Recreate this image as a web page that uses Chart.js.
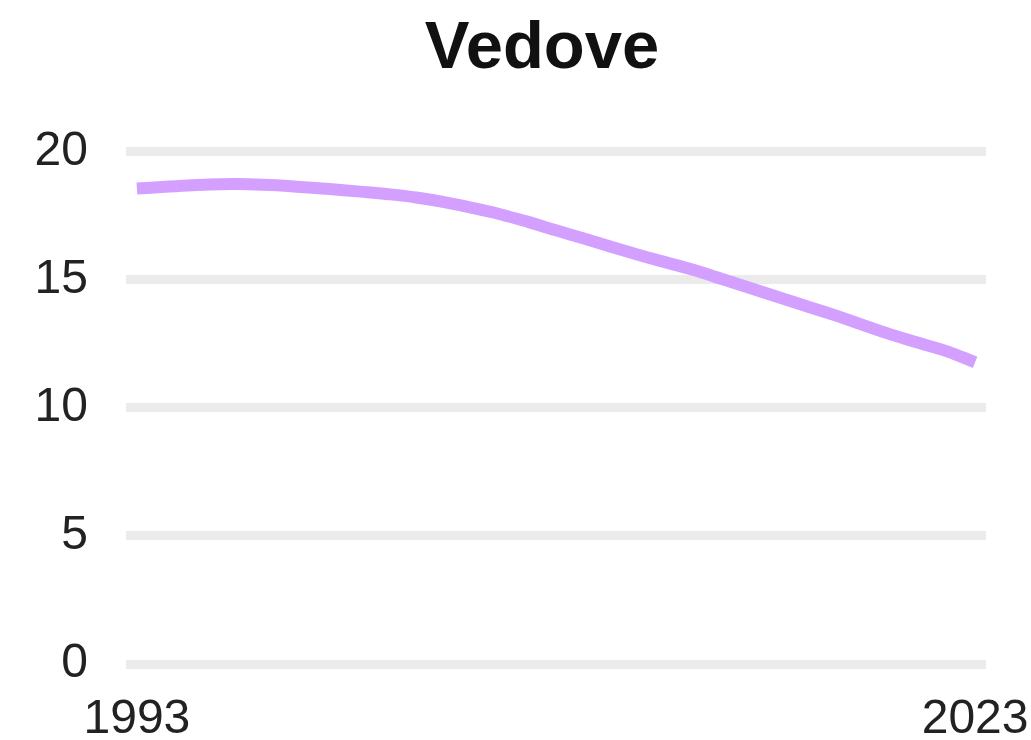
<!DOCTYPE html>
<html>
<head>
<meta charset="utf-8">
<script src="https://cdn.jsdelivr.net/npm/chart.js@4/dist/chart.umd.min.js"></script>
<style>
  html, body { margin: 0; padding: 0; background: #ffffff; }
  #wrap { width: 1031px; height: 740px; position: relative; }
</style>
</head>
<body>
<div id="wrap"><canvas id="c"></canvas></div>
<script>
const chartTitle = 'Vedove';
const years = [1993,1994,1995,1996,1997,1998,1999,2000,2001,2002,2003,2004,2005,2006,2007,2008,2009,2010,2011,2012,2013,2014,2015,2016,2017,2018,2019,2020,2021,2022,2023];
const values = [18.55,18.62,18.68,18.72,18.72,18.68,18.6,18.52,18.43,18.33,18.2,18.02,17.8,17.55,17.25,16.92,16.6,16.27,15.95,15.65,15.35,15.0,14.65,14.3,13.95,13.6,13.22,12.85,12.52,12.2,11.77];
const xTickValues = [1993, 2023];
const yTickValues = [0, 5, 10, 15, 20];

const FONT = '"Liberation Sans", Arial, Helvetica, sans-serif';
const points = years.map((y, i) => ({ x: y, y: values[i] }));

// nudges the title block horizontally to where the reference centres it
const titleShift = {
  id: 'titleShift',
  afterLayout(chart) {
    const t = chart.titleBlock;
    if (t) { t.left += 49; t.right += 49; }
  }
};

new Chart(document.getElementById('c'), {
  type: 'line',
  data: {
    datasets: [{
      data: points,
      borderColor: '#d3a0ff',
      borderWidth: 12,
      pointRadius: 0,
      pointHoverRadius: 0,
      tension: 0.4,
      fill: false
    }]
  },
  plugins: [titleShift],
  options: {
    responsive: true,
    maintainAspectRatio: false,
    animation: false,
    layout: { padding: { top: 0, right: 45, bottom: 0, left: 0 } },
    plugins: {
      legend: { display: false },
      tooltip: { enabled: false },
      title: {
        display: true,
        text: chartTitle,
        color: '#111111',
        font: { family: FONT, size: 67, weight: 'bold' },
        padding: { top: 9, bottom: 62 }
      }
    },
    scales: {
      x: {
        type: 'linear',
        min: years[0] - 0.39,
        max: years[years.length - 1] + 0.39,
        afterBuildTicks: (s) => { s.ticks = xTickValues.map(v => ({ value: v })); },
        afterFit: (s) => { s.height = 76; s.paddingLeft = 0; s.paddingRight = 0; },
        grid: { display: false, drawTicks: false },
        border: { display: false },
        ticks: {
          color: '#222222',
          font: { family: FONT, size: 48, lineHeight: 1 },
          padding: 32,
          maxRotation: 0,
          autoSkip: false,
          callback: (v) => String(v)
        }
      },
      y: {
        min: 0,
        max: 20,
        afterBuildTicks: (s) => { s.ticks = yTickValues.map(v => ({ value: v })); },
        afterFit: (s) => { s.width = 126; s.paddingTop = 0; s.paddingBottom = 0; },
        grid: { color: '#ebebeb', lineWidth: 9, drawTicks: false },
        border: { display: false },
        ticks: {
          color: '#222222',
          font: { family: FONT, size: 48, lineHeight: 1 },
          padding: 38
        }
      }
    }
  }
});
</script>
</body>
</html>
